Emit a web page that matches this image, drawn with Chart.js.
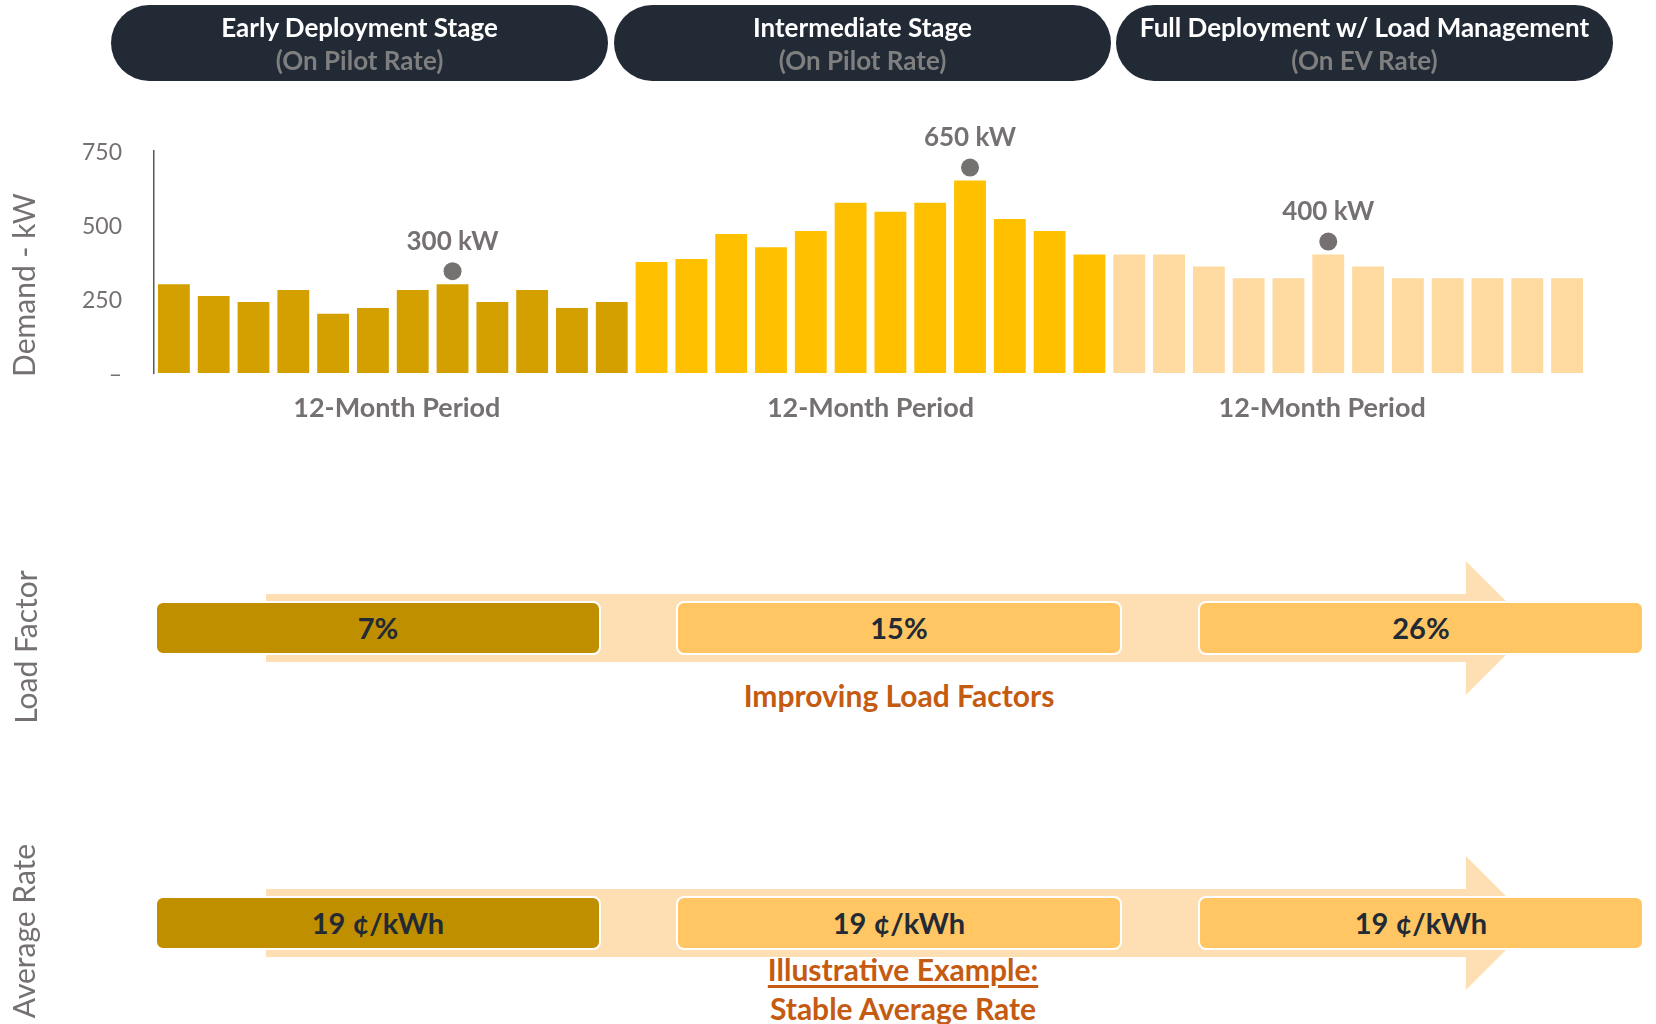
<!DOCTYPE html>
<html>
<head>
<meta charset="utf-8">
<script src="https://cdn.jsdelivr.net/npm/chart.js@4.4.1/dist/chart.umd.min.js"></script>
<style>
  body { margin: 0; width: 1656px; height: 1024px; background: #fff; overflow: hidden; font-family: Lato, "Open Sans", sans-serif; position: relative; }
  .pill { position: absolute; top: 5px; height: 76px; width: 497px; border-radius: 38px; background: #222a35; text-align: center; font-weight: bold; font-size: 26px; }
  .pill .t { position: absolute; left: 0; right: 0; top: 6px; color: #fff; }
  .pill .s { position: absolute; left: 0; right: 0; top: 39px; color: #7f7f7f; }
  #chart-wrap { position: absolute; left: 0; top: 0; width: 1656px; height: 440px; }
  .side { position: absolute; color: #767171; font-size: 30px; transform: translate(-50%, -50%) rotate(-90deg); white-space: nowrap; }
  .arrow { position: absolute; left: 266px; width: 1267px; height: 134px; background: #fedfb4;
    clip-path: polygon(0 24.6%, 94.7% 24.6%, 94.7% 0, 100% 50%, 94.7% 100%, 94.7% 75.4%, 0 75.4%); }
  .box { position: absolute; width: 442px; height: 50px; border: 2px solid #fff; border-radius: 8px; text-align: center;
    line-height: 50px; font-weight: bold; font-size: 29px; color: #222a35; }
  .dark { background: #bf8f00; }
  .light { background: #ffc663; }
  .note { position: absolute; color: #c55a11; font-weight: bold; font-size: 30px; transform: translate(-50%, -50%); white-space: nowrap; }
  .ul { text-decoration: underline; text-decoration-thickness: 3px; text-underline-offset: 4px; }
</style>
</head>
<body>
<div id="chart-wrap"><canvas id="demandChart" width="1656" height="440"></canvas></div>
<div id="overlay"></div>
<script>
// Stage headers
const stageTitles = ['Early Deployment Stage', 'Intermediate Stage', 'Full Deployment w/ Load Management'];
const stageRates = ['(On Pilot Rate)', '(On Pilot Rate)', '(On EV Rate)'];

// Monthly peak demand (kW), 12 months per stage
const earlyDemand = [300, 260, 240, 280, 200, 220, 280, 300, 240, 280, 220, 240];
const intermediateDemand = [375, 385, 470, 425, 480, 575, 545, 575, 650, 520, 480, 400];
const fullDemand = [400, 400, 360, 320, 320, 400, 360, 320, 320, 320, 320, 320];

// month (0-based) marked as the stage peak
const peakMonth = [7, 8, 5];

const yTicks = [0, 250, 500, 750];
const periodLabel = '12-Month Period';

// Lower panels
const loadFactors = ['7%', '15%', '26%'];
const averageRates = ['19 ¢/kWh', '19 ¢/kWh', '19 ¢/kWh'];

const stageColors = ['#d4a000', '#ffc000', '#fed9a0'];
const gray = '#767171';

const demand = earlyDemand.concat(intermediateDemand, fullDemand);
const stages = [earlyDemand, intermediateDemand, fullDemand];
const barColors = [];
const peakIndex = [];
let offset = 0;
stages.forEach((s, k) => {
    s.forEach(() => barColors.push(stageColors[k]));
    peakIndex.push(offset + peakMonth[k]);
    offset += s.length;
});

// Dots, peak labels and period labels drawn on top of the bars
const annotatePlugin = {
    id: 'annotate',
    afterDatasetsDraw(chart, args, opts) {
        const ctx = chart.ctx;
        const meta = chart.getDatasetMeta(0);
        ctx.save();
        ctx.textAlign = 'center';
        ctx.textBaseline = 'middle';
        ctx.fillStyle = gray;
        peakIndex.forEach(i => {
            const bar = meta.data[i];
            ctx.beginPath();
            ctx.arc(bar.x, bar.y - 13, 9, 0, Math.PI * 2);
            ctx.fill();
            ctx.font = 'bold 26px Lato';
            ctx.fillText(demand[i] + ' kW', bar.x, bar.y - 43);
        });
        const y0 = chart.scales.y.getPixelForValue(0);
        let start = 0;
        ctx.font = 'bold 27px Lato';
        stages.forEach((s, k) => {
            const x = (meta.data[start].x + meta.data[start + s.length - 1].x) / 2;
            ctx.fillText(periodLabel, x + opts.shift[k], y0 + 35);
            start += s.length;
        });
        ctx.restore();
    }
};

const ctx = document.getElementById('demandChart').getContext('2d');
const chart = new Chart(ctx, {
    type: 'bar',
    data: {
        labels: demand.map((d, i) => i + 1),
        datasets: [{
            label: 'Demand',
            data: demand,
            backgroundColor: barColors,
            barPercentage: 0.8,
            categoryPercentage: 1.0
        }]
    },
    options: {
        responsive: false,
        animation: false,
        layout: { padding: { top: 151, bottom: 67, right: 69, left: 0 } },
        plugins: {
            legend: { display: false },
            tooltip: { enabled: false },
            annotate: { shift: [4, 0, -26] }
        },
        scales: {
            x: { display: false },
            y: {
                min: 0,
                max: 750,
                afterFit(scale) { scale.width = 154; },
                afterBuildTicks(scale) { scale.ticks = yTicks.map(v => ({ value: v })); },
                grid: { display: false, drawTicks: false },
                border: { display: true, color: '#595959', width: 1.5 },
                ticks: {
                    padding: 32,
                    labelOffset: 2,
                    color: gray,
                    font: { family: 'Lato', size: 23 },
                    callback: v => v === 0 ? '–' : v
                }
            }
        }
    },
    plugins: [annotatePlugin]
});

// Header pills and lower panels
const overlay = document.getElementById('overlay');
const pillLeft = [111, 614, 1116];
const boxLeft = [155, 676, 1198];
stageTitles.forEach((t, i) => {
    overlay.insertAdjacentHTML('beforeend',
        '<div class="pill" style="left:' + pillLeft[i] + 'px"><div class="t">' + t + '</div><div class="s">' + stageRates[i] + '</div></div>');
});

function panel(values, top) {
    overlay.insertAdjacentHTML('beforeend', '<div class="arrow" style="top:' + (top - 67) + 'px"></div>');
    values.forEach((v, i) => {
        overlay.insertAdjacentHTML('beforeend',
            '<div class="box ' + (i === 0 ? 'dark' : 'light') + '" style="left:' + boxLeft[i] + 'px;top:' + (top - 27) + 'px">' + v + '</div>');
    });
}
panel(loadFactors, 628);
panel(averageRates, 923);

overlay.insertAdjacentHTML('beforeend',
    '<div class="side" style="left:23px;top:285px">Demand - kW</div>' +
    '<div class="side" style="left:25px;top:647px">Load Factor</div>' +
    '<div class="side" style="left:23px;top:931px">Average Rate</div>' +
    '<div class="note" style="left:899px;top:695px">Improving Load Factors</div>' +
    '<div class="note ul" style="left:903px;top:969px">Illustrative Example:</div>' +
    '<div class="note" style="left:903px;top:1008px">Stable Average Rate</div>');
</script>
</body>
</html>
